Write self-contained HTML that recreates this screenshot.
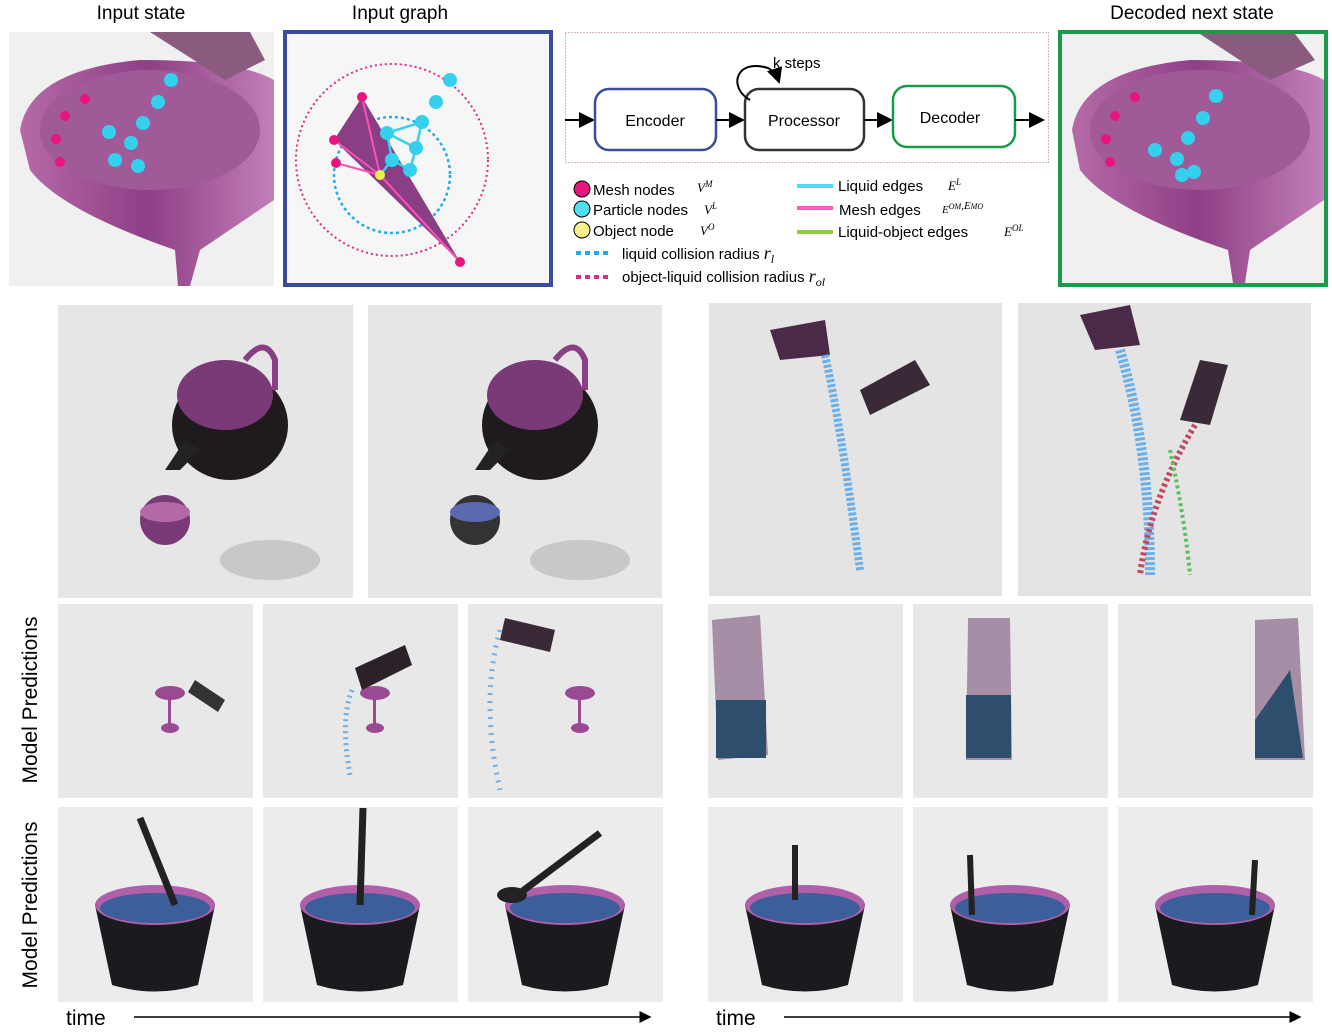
<!DOCTYPE html>
<html><head><meta charset="utf-8"><style>
html,body{margin:0;padding:0;background:#fff;}
svg{display:block;font-family:"Liberation Sans",sans-serif;}
</style></head><body>
<svg width="1332" height="1033" viewBox="0 0 1332 1033" xmlns="http://www.w3.org/2000/svg">
<defs>
<marker id="ar" markerWidth="8" markerHeight="8" refX="7" refY="4" orient="auto"><path d="M0,0 L8,4 L0,8 z" fill="#000"/></marker>
<linearGradient id="fun" x1="0" y1="0" x2="1" y2="0"><stop offset="0" stop-color="#b56aa8"/><stop offset="0.5" stop-color="#8e3f86"/><stop offset="1" stop-color="#c27fb8"/></linearGradient>
</defs>
<text x="141" y="19" font-size="19" text-anchor="middle">Input state</text>
<text x="400" y="19" font-size="19" text-anchor="middle">Input graph</text>
<text x="1192" y="19" font-size="19" text-anchor="middle">Decoded next state</text>

<rect x="9" y="32" width="265" height="254" fill="#f0f0f0"/>
<path d="M20,130 Q30,70 140,60 Q240,60 274,80 L274,200 L200,250 L190,286 L178,286 L175,250 Q60,210 30,170 Z" fill="url(#fun)"/>
<ellipse cx="150" cy="130" rx="110" ry="60" fill="#a05a98"/>
<path d="M150,32 L250,32 L265,60 L225,80 Z" fill="#8a5b7f"/>
<g fill="#35d0ee"><circle cx="171" cy="80" r="7"/><circle cx="158" cy="102" r="7"/><circle cx="143" cy="123" r="7"/><circle cx="109" cy="132" r="7"/><circle cx="131" cy="143" r="7"/><circle cx="115" cy="160" r="7"/><circle cx="138" cy="166" r="7"/></g>
<g fill="#e8157e"><circle cx="85" cy="99" r="5"/><circle cx="65" cy="116" r="5"/><circle cx="56" cy="139" r="5"/><circle cx="60" cy="162" r="5"/></g>

<rect x="285" y="32" width="266" height="253" fill="#f6f6f6" stroke="#3c4c9c" stroke-width="4"/>
<circle cx="392" cy="160" r="96" fill="none" stroke="#e2288a" stroke-width="2" stroke-dasharray="2,3"/>
<circle cx="392" cy="175" r="58" fill="none" stroke="#22aaee" stroke-width="2.5" stroke-dasharray="3,3"/>
<path d="M362,97 L334,140 L460,262 Z" fill="#8a3f84"/>
<g stroke="#ff4fb5" stroke-width="2"><line x1="380" y1="175" x2="362" y2="97"/><line x1="380" y1="175" x2="334" y2="140"/><line x1="380" y1="175" x2="336" y2="163"/><line x1="380" y1="175" x2="460" y2="262"/></g>
<g stroke="#35d0ee" stroke-width="2.5" fill="none"><path d="M387,133 L422,122 L416,148 L410,170 L392,160 L387,133 L416,148 M392,160 L380,175"/></g>
<g fill="#35d0ee"><circle cx="450" cy="80" r="7"/><circle cx="436" cy="102" r="7"/><circle cx="422" cy="122" r="7"/><circle cx="387" cy="133" r="7"/><circle cx="416" cy="148" r="7"/><circle cx="392" cy="160" r="7"/><circle cx="410" cy="170" r="7"/></g>
<circle cx="380" cy="175" r="5" fill="#e6f04a"/>
<g fill="#e8157e"><circle cx="362" cy="97" r="5"/><circle cx="334" cy="140" r="5"/><circle cx="336" cy="163" r="5"/><circle cx="460" cy="262" r="5"/></g>

<rect x="565.5" y="32.5" width="483" height="130" fill="none" stroke="#b07070" stroke-dasharray="1,2"/>
<line x1="565" y1="120" x2="593" y2="120" stroke="#000" stroke-width="2" marker-end="url(#ar)"/>
<rect x="595" y="89" width="121" height="61" rx="14" fill="#fff" stroke="#3c4c9c" stroke-width="2.5"/>
<text x="655" y="126" font-size="16" text-anchor="middle">Encoder</text>
<line x1="716" y1="120" x2="743" y2="120" stroke="#000" stroke-width="2" marker-end="url(#ar)"/>
<rect x="745" y="89" width="119" height="61" rx="14" fill="#fff" stroke="#333" stroke-width="2.5"/>
<text x="804" y="126" font-size="16" text-anchor="middle">Processor</text>
<path d="M750,100 C728,88 735,58 768,68 C774,71 777,76 779,82" fill="none" stroke="#000" stroke-width="2" marker-end="url(#ar)"/>
<text x="773" y="68" font-size="15">k steps</text>
<line x1="864" y1="120" x2="891" y2="120" stroke="#000" stroke-width="2" marker-end="url(#ar)"/>
<rect x="893" y="86" width="122" height="61" rx="14" fill="#fff" stroke="#1a9a4a" stroke-width="2.5"/>
<text x="950" y="123" font-size="16" text-anchor="middle">Decoder</text>
<line x1="1015" y1="120" x2="1043" y2="120" stroke="#000" stroke-width="2" marker-end="url(#ar)"/>

<g font-size="15">
<circle cx="582" cy="189" r="8" fill="#e8157e" stroke="#000"/><text x="593" y="195">Mesh nodes</text><text x="697" y="192" font-family="Liberation Serif" font-style="italic" font-size="13">V<tspan font-size="9" dy="-5">M</tspan></text>
<circle cx="582" cy="209" r="8" fill="#4fe0f0" stroke="#000"/><text x="593" y="215">Particle nodes</text><text x="704" y="214" font-family="Liberation Serif" font-style="italic" font-size="13">V<tspan font-size="9" dy="-5">L</tspan></text>
<circle cx="582" cy="230" r="8" fill="#f6f08a" stroke="#000"/><text x="593" y="236">Object node</text><text x="700" y="235" font-family="Liberation Serif" font-style="italic" font-size="13">V<tspan font-size="9" dy="-5">O</tspan></text>
<line x1="576" y1="253" x2="612" y2="253" stroke="#22aaee" stroke-width="4" stroke-dasharray="5,4"/><text x="622" y="259">liquid collision radius <tspan font-family="Liberation Serif" font-style="italic" font-size="18">r<tspan font-size="12" dy="4">l</tspan></tspan></text>
<line x1="576" y1="277" x2="612" y2="277" stroke="#d0307e" stroke-width="4" stroke-dasharray="5,4"/><text x="622" y="282">object-liquid collision radius <tspan font-family="Liberation Serif" font-style="italic" font-size="18">r<tspan font-size="12" dy="4">ol</tspan></tspan></text>
<line x1="797" y1="186" x2="833" y2="186" stroke="#4fdcf5" stroke-width="4"/><text x="838" y="191">Liquid edges</text><text x="948" y="190" font-family="Liberation Serif" font-style="italic" font-size="13">E<tspan font-size="9" dy="-5">L</tspan></text>
<line x1="797" y1="208" x2="833" y2="208" stroke="#ff5ac0" stroke-width="4"/><text x="839" y="215">Mesh edges</text><text x="942" y="213" font-family="Liberation Serif" font-style="italic" font-size="11">E<tspan font-size="8" dy="-4">OM</tspan>,E<tspan font-size="8" dy="-0">MO</tspan></text>
<line x1="797" y1="232" x2="833" y2="232" stroke="#8ccf3c" stroke-width="4"/><text x="838" y="237">Liquid-object edges</text><text x="1004" y="236" font-family="Liberation Serif" font-style="italic" font-size="13">E<tspan font-size="9" dy="-5">OL</tspan></text>
</g>

<rect x="1060" y="32" width="266" height="253" fill="#f0f0f0" stroke="#1a9a4a" stroke-width="4"/>
<path d="M1072,130 Q1082,70 1190,60 Q1290,60 1324,80 L1324,200 L1250,250 L1245,283 L1233,283 L1228,250 Q1110,210 1080,170 Z" fill="url(#fun)"/>
<ellipse cx="1200" cy="130" rx="110" ry="60" fill="#a05a98"/>
<path d="M1200,34 L1295,34 L1315,60 L1270,80 Z" fill="#8a5b7f"/>
<g fill="#35d0ee"><circle cx="1216" cy="96" r="7"/><circle cx="1203" cy="118" r="7"/><circle cx="1188" cy="138" r="7"/><circle cx="1155" cy="150" r="7"/><circle cx="1177" cy="159" r="7"/><circle cx="1194" cy="172" r="7"/><circle cx="1182" cy="175" r="7"/></g>
<g fill="#e8157e"><circle cx="1135" cy="97" r="5"/><circle cx="1115" cy="116" r="5"/><circle cx="1106" cy="139" r="5"/><circle cx="1110" cy="162" r="5"/></g>

<rect x="58" y="305" width="295" height="293" fill="#e6e6e6"/>
<rect x="368" y="305" width="294" height="293" fill="#e6e6e6"/>
<rect x="709" y="303" width="293" height="293" fill="#e4e4e4"/>
<rect x="1018" y="303" width="293" height="293" fill="#e4e4e4"/>
<g>
<ellipse cx="230" cy="425" rx="58" ry="55" fill="#1e1a1e"/><ellipse cx="225" cy="395" rx="48" ry="35" fill="#7a3a78"/>
<path d="M245,360 Q265,335 275,360 L275,390" fill="none" stroke="#8a3f84" stroke-width="6"/>
<path d="M185,440 L165,470 L180,470 L200,450 Z" fill="#222"/>
<ellipse cx="165" cy="520" rx="25" ry="25" fill="#7a3a78"/><ellipse cx="165" cy="512" rx="25" ry="10" fill="#b56aa8"/>
<ellipse cx="270" cy="560" rx="50" ry="20" fill="#c8c8c8"/>
<ellipse cx="540" cy="425" rx="58" ry="55" fill="#1e1a1e"/><ellipse cx="535" cy="395" rx="48" ry="35" fill="#7a3a78"/>
<path d="M555,360 Q575,335 585,360 L585,390" fill="none" stroke="#8a3f84" stroke-width="6"/>
<path d="M495,440 L475,470 L490,470 L510,450 Z" fill="#222"/>
<ellipse cx="475" cy="520" rx="25" ry="25" fill="#333"/><ellipse cx="475" cy="512" rx="25" ry="10" fill="#5a6ab0"/>
<ellipse cx="580" cy="560" rx="50" ry="20" fill="#c8c8c8"/>
<path d="M770,330 L825,320 L830,355 L780,360 Z" fill="#4a2a48"/><path d="M860,390 L915,360 L930,385 L870,415 Z" fill="#3a2a38"/>
<path d="M825,355 Q840,420 860,570" stroke="#6cb0e8" stroke-width="8" fill="none" stroke-dasharray="3,2"/>
<path d="M1080,315 L1130,305 L1140,345 L1095,350 Z" fill="#4a2a48"/><path d="M1180,420 L1200,360 L1228,365 L1210,425 Z" fill="#3a2a38"/>
<path d="M1120,350 Q1150,450 1150,575" stroke="#6cb0e8" stroke-width="10" fill="none" stroke-dasharray="3,2"/>
<path d="M1195,425 Q1150,500 1140,575" stroke="#c04860" stroke-width="6" fill="none" stroke-dasharray="3,3"/>
<path d="M1170,450 Q1185,520 1190,575" stroke="#5ac060" stroke-width="4" fill="none" stroke-dasharray="3,3"/>
</g>

<g fill="#e8e8e8">
<rect x="58" y="604" width="195" height="194"/><rect x="263" y="604" width="195" height="194"/><rect x="468" y="604" width="195" height="194"/>
<rect x="708" y="604" width="195" height="194"/><rect x="913" y="604" width="195" height="194"/><rect x="1118" y="604" width="195" height="194"/>
</g>
<g fill="#9a4a92">
<ellipse cx="170" cy="693" rx="15" ry="7"/><rect x="168" y="695" width="3" height="30"/><ellipse cx="170" cy="728" rx="9" ry="5"/>
<ellipse cx="375" cy="693" rx="15" ry="7"/><rect x="373" y="695" width="3" height="30"/><ellipse cx="375" cy="728" rx="9" ry="5"/>
<ellipse cx="580" cy="693" rx="15" ry="7"/><rect x="578" y="695" width="3" height="30"/><ellipse cx="580" cy="728" rx="9" ry="5"/>
</g>
<path d="M195,680 L225,700 L218,712 L188,692 Z" fill="#333"/>
<path d="M355,668 L405,645 L412,665 L362,690 Z" fill="#2a2228"/>
<path d="M505,618 L555,630 L550,652 L500,640 Z" fill="#3a2a38"/>
<path d="M352,690 Q340,720 350,775" stroke="#6cb0e8" stroke-width="5" fill="none" stroke-dasharray="2,4"/>
<path d="M500,630 Q480,700 500,790" stroke="#6cb0e8" stroke-width="5" fill="none" stroke-dasharray="2,6"/>
<g fill="#8a6a8a" opacity="0.7"><path d="M712,620 L760,615 L768,755 L718,760 Z"/><path d="M968,618 L1010,618 L1012,760 L966,760 Z"/><path d="M1255,620 L1298,618 L1305,760 L1255,760 Z"/></g>
<g fill="#2e4e6e"><rect x="716" y="700" width="50" height="58"/><rect x="966" y="695" width="45" height="63"/><path d="M1255,720 L1290,670 L1303,758 L1255,758 Z"/></g>

<g fill="#ececec">
<rect x="58" y="807" width="195" height="195"/><rect x="263" y="807" width="195" height="195"/><rect x="468" y="807" width="195" height="195"/>
<rect x="708" y="807" width="195" height="195"/><rect x="913" y="807" width="195" height="195"/><rect x="1118" y="807" width="195" height="195"/>
</g>
<g>
<g id="bowl">
<path d="M95,905 L112,985 Q155,998 198,985 L215,905 Z" fill="#1c1a1e"/>
<ellipse cx="155" cy="905" rx="60" ry="20" fill="#b060a8"/>
<ellipse cx="155" cy="908" rx="55" ry="15" fill="#3c5e9a"/>
</g>
<use href="#bowl" x="205"/><use href="#bowl" x="410"/><use href="#bowl" x="650"/><use href="#bowl" x="855"/><use href="#bowl" x="1060"/>
<line x1="140" y1="818" x2="175" y2="905" stroke="#222" stroke-width="7"/>
<line x1="363" y1="808" x2="360" y2="905" stroke="#222" stroke-width="7"/>
<line x1="600" y1="833" x2="520" y2="893" stroke="#222" stroke-width="7"/><ellipse cx="512" cy="895" rx="15" ry="8" fill="#222"/>
<line x1="795" y1="845" x2="795" y2="900" stroke="#222" stroke-width="6"/>
<line x1="970" y1="855" x2="972" y2="915" stroke="#222" stroke-width="6"/>
<line x1="1255" y1="860" x2="1252" y2="915" stroke="#222" stroke-width="6"/>
</g>

<text transform="translate(37,700) rotate(-90)" font-size="21" text-anchor="middle">Model Predictions</text>
<text transform="translate(37,905) rotate(-90)" font-size="21" text-anchor="middle">Model Predictions</text>
<text x="66" y="1025" font-size="21">time</text>
<line x1="134" y1="1017" x2="650" y2="1017" stroke="#000" stroke-width="1.5" marker-end="url(#ar)"/>
<text x="716" y="1025" font-size="21">time</text>
<line x1="784" y1="1017" x2="1300" y2="1017" stroke="#000" stroke-width="1.5" marker-end="url(#ar)"/>
</svg>
</body></html>
